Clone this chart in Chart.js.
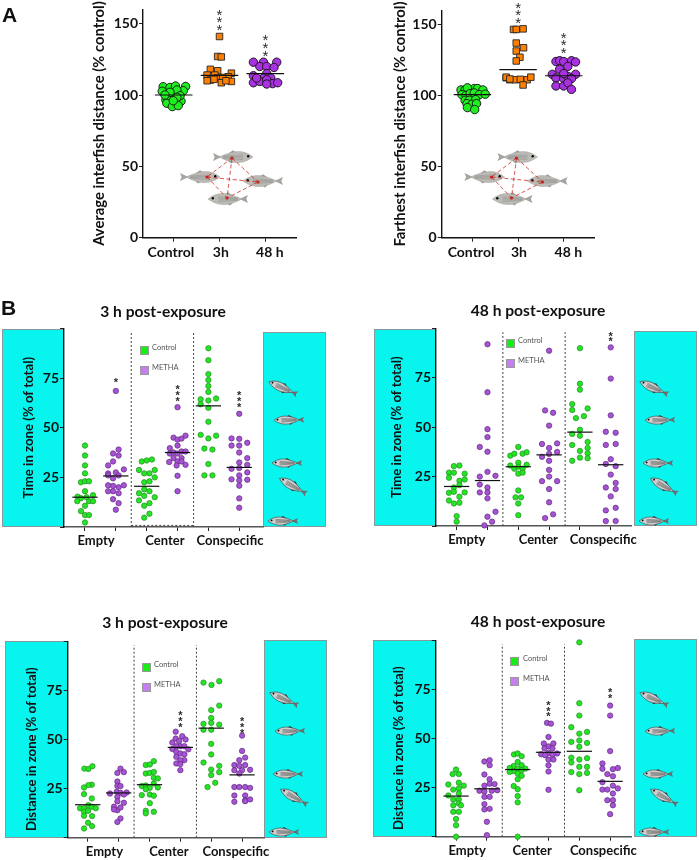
<!DOCTYPE html>
<html>
<head>
<meta charset="utf-8">
<title>Interfish distance and zone preference</title>
<script src="https://cdn.jsdelivr.net/npm/chart.js@4/dist/chart.umd.min.js"></script>
<style>
  html, body { margin: 0; background: #fff; }
  #page { position: relative; width: 699px; height: 860px; overflow: hidden; font-family: Lato, sans-serif; color: #111; }
  #page canvas { position: absolute; }
  .letter { position: absolute; font: 700 21px "Liberation Sans", sans-serif; line-height: 1; }
  .title { position: absolute; width: 200px; text-align: center; font-weight: 700; font-size: 15.6px; line-height: 1; }
  .sw { position: absolute; width: 9px; height: 9px; box-sizing: border-box; border: 1px solid #999; }
  .key { position: absolute; font-size: 7.5px; line-height: 1; color: #555; }
</style>
</head>
<body>
<div id="page">
  <canvas id="deco" width="699" height="860" style="left:0;top:0"></canvas>
</div>
<script>
// ---- Data: each point is [offset from category, value] ----
const aCategories = ['Control', '3h', '48 h'];
const bCategories = ['Empty', 'Center', 'Conspecific'];

// A, average interfish distance
const avgControl = [[-.23,105.8],[-.25,102.6],[-.08,105.3],[.04,106.3],[.26,106],[.21,103],[.07,103.5],[-.06,99.5],[-.17,96.5],[-.12,97],[.16,95.6],[-.15,94.2],[.03,93.3],[-.03,91.9],[.10,92.6],[-.08,101.9],[.14,99.5],[.07,98.4],[-.19,100],[-.01,96]];
const avg3h = [[0,141],[-.04,127],[.04,126.7],[-.2,118],[-.04,117],[-.27,114],[.26,115.3],[.19,112.8],[-.10,114],[-.2,110.5],[-.05,111.9],[.07,112.3],[-.27,110],[-.12,111],[.04,108.6],[.26,109.5],[.14,110]];
const avg48h = [[-.26,123],[-.04,123],[.25,123],[-.12,120],[.03,120],[.19,119.3],[.03,115],[-.26,113.5],[-.04,111.9],[.12,111.9],[-.26,108.6],[-.12,109.5],[.03,110.7],[.16,108],[.27,108.6],[.03,107.7],[-.19,111.9]];
const avgMedians = [100, 113.8, 115];
const avgStars = [[2, 158, 3], [3, 140, 3]];

// A, farthest interfish distance
const farControl = [[-.25,104],[-.16,104],[-.07,104],[.04,105],[.11,105],[.23,104],[-.11,105.5],[-.23,100.7],[-.14,100.2],[-.05,101.4],[.04,101.9],[.15,100.7],[.28,101],[-.16,96.7],[-.07,96.7],[.07,97.2],[-.12,94.4],[-.01,93.9],[.09,94.4],[-.11,91.6],[.05,90.2]];
const far3h = [[-.10,146.6],[-.04,146.6],[.11,147],[-.04,137],[.12,133.7],[-.04,131.4],[.04,127],[-.04,124.4],[-.26,112.6],[-.18,111.2],[-.06,111.2],[.05,111.5],[.2,111.2],[.28,113],[.11,107.5],[-.26,113],[-.18,111.7]];
const far48h = [[-.17,124],[-.09,124.6],[0,124],[.17,124.6],[.26,123.7],[.09,120.6],[-.09,118.5],[-.25,115],[.26,115],[-.17,112.4],[0,112],[.09,113.6],[.17,112],[-.17,106.8],[0,106.8],[.09,109],[.17,104.4],[0,115.5]];
const farMedians = [100.7, 118.3, 114];
const farStars = [[2, 163.7, 3], [3, 142.5, 3]];

// B, time in zone, 3 h
const time3Control = [
  [[0,41],[0,36],[0,31],[0,27],[-.13,22.5],[0,23],[.13,23],[0,18],[-.24,15.3],[-.13,14.5],[.26,16],[-.25,13],[.13,13],[.26,13],[0,10.7],[-.13,8],[0,6],[.13,6],[0,2.3],[.05,15]],
  [[-.16,33],[0,33.5],[.17,34],[-.25,28.7],[.26,28.7],[-.08,27],[.09,27],[.26,25],[-.08,22.5],[.09,23],[-.08,19],[-.25,17],[.09,18],[-.08,15.7],[.26,15],[-.25,13.4],[.09,12],[-.08,10.7],[.09,6.7],[-.08,4.7]],
  [[0,90],[0,84],[0,77],[0,74],[0,71],[0,68],[-.25,64.3],[0,63.7],[.25,64.7],[-.25,61.8],[0,60],[0,53],[-.25,46.4],[.25,46],[0,44.6],[-.13,39.5],[.13,39],[0,31.7],[-.13,26],[.13,26]]
];
const time3Metha = [
  [[0,68.5],[.09,39],[-.09,37],[.09,36],[-.09,33],[-.25,31],[.26,29],[-.25,27],[0,27.5],[.09,26],[-.25,26],[-.09,24.5],[-.25,21],[.26,21],[-.09,20.7],[.09,20],[-.25,18],[-.09,18],[.09,17],[-.09,14],[.09,12],[0,8.7]],
  [[0,60.3],[-.13,45],[0,44],[.13,44.5],[.26,46],[0,41],[-.25,39.7],[-.25,37],[-.13,37.5],[0,37],[.13,38],[.26,38],[-.13,34.7],[.13,34.7],[-.27,32.7],[0,33],[.13,33],[.26,31.3],[-.03,31],[0,25.8],[0,18]],
  [[0,57],[-.25,44.6],[0,44.4],[.26,42.4],[-.25,41],[0,41],[0,37.5],[.26,34.7],[0,32.5],[.26,31.3],[-.25,29.3],[0,29.7],[.26,27.5],[0,26],[-.25,24],[0,23.5],[.26,23.8],[0,20.8],[0,14.4],[0,9.7]]
];
const time3Medians = [15, 25.7, 20.5, 37.5, 61, 30];
const time3Stars = [[2, 73.7, 1], [4, 70, 3], [6, 67, 3]];

// B, time in zone, 48 h
const time48Control = [
  [[-.09,30.3],[.09,30.6],[-.25,27],[-.09,27],[.26,26.5],[-.25,24.4],[.09,22.9],[.26,23.5],[.09,20.7],[-.09,19.5],[-.25,16.8],[-.09,17.3],[.26,17],[.09,14.8],[-.25,12.9],[-.09,11.4],[.09,11.8],[0,5],[0,2.2]],
  [[0,40],[-.26,35.6],[-.13,36.6],[.14,36.6],[.27,37.3],[0,32],[-.26,30.6],[.27,31],[-.13,29],[0,30],[.14,29],[0,26.5],[.14,27],[0,18],[-.09,14.5],[.09,14.5],[0,11.4],[0,5.5]],
  [[0,90],[0,72],[0,69],[-.25,61.7],[.25,59.5],[-.25,58.7],[.13,55.6],[-.13,54.6],[0,48.7],[-.25,46.6],[0,45.7],[.25,42.5],[-.25,41],[.25,39.5],[0,38],[.25,36.8],[0,34.6],[.25,34.3],[-.25,33]]
];
const time48Metha = [
  [[0,92],[0,67.7],[0,49],[0,45],[-.25,40],[0,37.6],[0,27.4],[-.25,25],[.26,25.4],[-.25,21],[0,19.5],[-.25,17],[0,17],[0,14],[.26,7.2],[0,4.7],[.15,2.2],[-.1,.3]],
  [[0,88.7],[-.13,58.5],[.13,57.3],[0,50.8],[-.23,41.5],[.26,41.8],[0,39.5],[0,36.5],[-.23,35],[.26,37.5],[0,33],[0,28.4],[0,25],[-.23,22.7],[.26,22.7],[0,18.7],[0,12],[.13,5.9],[-.13,4]],
  [[0,90.4],[0,74.6],[0,56],[-.16,47.7],[.16,47.2],[-.16,41],[.16,41.5],[0,33.8],[-.16,31.4],[.16,30.3],[0,26],[.16,21.8],[-.16,19.5],[.16,18.7],[0,15],[.16,9.2],[-.16,7.9],[-.16,2.5],[.16,2.5]]
];
const time48Medians = [20, 23, 30, 36, 47.5, 31];
const time48Stars = [[6, 97, 2]];

// B, distance in zone, 3 h
const dist3Control = [
  [[-.11,35.2],[.02,35],[.15,36.4],[.13,27],[.02,26.8],[-.12,25.6],[-.12,22.2],[.13,20],[-.25,15],[-.12,15],[.02,16.6],[.13,15.8],[.26,15],[-.12,13.2],[.01,13.7],[-.12,11.2],[.14,11],[.01,7.6],[.14,5.9],[-.12,4.7]],
  [[.14,39],[-.12,37],[.01,37.3],[-.12,32.7],[.01,33],[.14,33.5],[.14,30.5],[.27,30.2],[-.25,26.3],[-.12,26.6],[.01,25.4],[.14,27.6],[.27,25.6],[-.12,24.7],[-.25,21.7],[.01,22],[.14,21.4],[.01,17.6],[-.12,13.7],[.14,13.2],[-.12,12.4]],
  [[-.25,79],[.01,77.8],[.26,79.7],[.26,67.3],[0,65],[0,61],[-.25,58],[0,58.5],[.26,57.6],[-.25,55],[0,55],[0,47.8],[0,42.4],[-.25,38.3],[.26,36.6],[0,34.7],[.26,33.4],[0,31.9],[.13,28],[-.12,25.8]]
];
const dist3Metha = [
  [[.06,35.2],[-.04,33],[.17,33.4],[-.04,28.6],[-.04,26.4],[.06,26.3],[-.28,22.5],[-.06,23.4],[.06,22.9],[.26,23],[-.04,20.8],[.17,22],[-.04,18.5],[.17,17.8],[-.15,15.8],[-.04,14],[.06,15.4],[-.15,14.4],[.06,9.8],[-.04,8]],
  [[-.15,54],[.06,51.7],[-.15,50.5],[.17,50],[-.04,49.3],[-.26,48.5],[0,46.6],[.13,46.6],[-.13,46.6],[.26,45],[-.26,45.2],[-.13,43.7],[0,42.9],[.13,42.5],[-.13,41.2],[.13,39.5],[0,39.5],[-.13,37.8],[0,37.5],[0,34.4]],
  [[0,52],[0,44.2],[.1,40.8],[-.09,39.5],[-.25,37],[.1,37],[-.09,36.6],[-.25,34.4],[0,34.4],[.26,34.6],[-.09,32.7],[-.25,25.8],[-.09,25.8],[.1,25.8],[.26,25.4],[-.25,21.5],[.1,21.5],[.1,19],[-.25,18.3],[.26,19.5],[.1,18.6]]
];
const dist3Medians = [16.8, 22.8, 27, 46, 55.8, 32];
const dist3Stars = [[4, 63, 3], [6, 60, 3]];

// B, distance in zone, 48 h
const dist48Control = [
  [[0,34.2],[-.11,31.9],[.09,31.9],[-.25,26.6],[.09,27.5],[.25,26],[-.09,24],[.09,24.6],[.09,22],[-.25,21],[-.09,19],[.09,19],[-.09,16],[.09,17],[.16,16],[-.09,12.7],[.09,12.7],[0,9],[0,5.8],[0,0]],
  [[-.12,41.9],[0,42.4],[.13,41],[0,38.1],[-.13,36],[.13,36.4],[-.26,35],[0,34.7],[.25,34.7],[-.13,33.4],[.13,33.9],[-.26,33],[0,32.2],[.13,31],[0,29.3],[-.13,25.8],[0,24.2],[0,20.7],[0,17.5],[0,0]],
  [[0,99],[0,68],[0,61.7],[-.26,55.8],[.25,53.4],[0,52.5],[-.26,48.3],[0,49],[.25,47.8],[0,45.8],[-.26,40.3],[.25,40],[0,39.3],[-.26,37.8],[0,35.6],[.25,35.6],[-.26,32.9],[.25,32.5],[0,31.9],[0,23.7]]
];
const dist48Metha = [
  [[-.08,38.3],[.09,39],[.09,36.4],[-.08,31.7],[.09,29.3],[-.08,26],[.09,27],[.25,26.8],[-.24,23.4],[-.08,23],[.16,23.4],[.34,23.7],[-.08,20.3],[.09,20.3],[-.08,16.6],[-.08,13.9],[.09,14.2],[0,7.6],[0,.8]],
  [[-.05,58],[.08,57.6],[0,50.8],[-.15,47.5],[.16,47.5],[0,46],[-.13,45],[.13,45],[-.24,42],[0,42.7],[.28,42.4],[-.11,41.5],[.13,41.8],[0,39.3],[.16,39.3],[0,36.4],[0,33.2],[0,23.9]],
  [[0,66.8],[0,61.7],[0,43.6],[-.25,37.3],[-.25,34.6],[.09,34.4],[.25,35],[-.09,31.9],[.09,30.8],[-.25,27.8],[.09,26],[-.25,24],[-.09,24],[.25,24.6],[.09,22],[-.09,18.6],[.09,18.6],[.09,16],[0,11.5]]
];
const dist48Medians = [20.7, 24.4, 34.2, 43, 43.5, 28.2];
const dist48Stars = [[4, 67.8, 3], [6, 74.2, 2]];

const aTicks = [1, 2, 3];
const bTicks = [1, 2, 3, 4, 5, 6];
const aYTicks = [0, 50, 100, 150];
const bYTicks = [0, 25, 50, 75, 100];
const zoneDividers = [2.5, 4.52];

// ---- Colors ----
const colors = {
  green:  { fill: '#1fee1f', line: '#111' },
  orange: { fill: '#ff8000', line: '#222' },
  purple: { fill: '#a832e0', line: '#111' },
  bGreen: { fill: '#22e622', line: '#2a8a2a' },
  bPurple:{ fill: '#a852d4', line: '#5b2c80' },
  cyan: '#07f5ee',
  axis: '#222'
};

const page = document.getElementById('page');
const font = 'Lato, sans-serif';

// ---- Background art: cyan tanks and fish ----
const deco = document.getElementById('deco').getContext('2d');

function drawFish(cx, cy, len, angle, headLeft, dark) {
  const c = deco;
  c.save();
  c.translate(cx, cy);
  c.rotate(angle);
  if (!headLeft) c.scale(-1, 1);
  const L = len / 2;
  // tail
  c.fillStyle = dark ? '#6d6d6d' : '#a5a4a0';
  c.beginPath();
  c.moveTo(L * 0.58, 0);
  c.lineTo(L, -L * 0.2);
  c.lineTo(L * 0.92, 0);
  c.lineTo(L, L * 0.2);
  c.closePath();
  c.fill();
  // fins
  c.fillStyle = dark ? '#333' : '#9c9b97';
  c.beginPath();
  c.moveTo(-L * 0.2, -L * 0.2);
  c.lineTo(0, -L * 0.34);
  c.lineTo(L * 0.25, -L * 0.16);
  c.closePath();
  c.fill();
  c.beginPath();
  c.moveTo(-L * 0.1, L * 0.2);
  c.lineTo(L * 0.1, L * 0.32);
  c.lineTo(L * 0.3, L * 0.14);
  c.closePath();
  c.fill();
  // body
  c.fillStyle = dark ? '#cfcfcf' : '#bdbbb6';
  c.strokeStyle = dark ? '#444' : '#a8a6a2';
  c.lineWidth = 0.6;
  c.beginPath();
  c.moveTo(-L, 0);
  c.quadraticCurveTo(-L * 0.55, -L * 0.36, 0, -L * 0.24);
  c.quadraticCurveTo(L * 0.4, -L * 0.15, L * 0.7, 0);
  c.quadraticCurveTo(L * 0.4, L * 0.17, 0, L * 0.26);
  c.quadraticCurveTo(-L * 0.55, L * 0.34, -L, 0);
  c.closePath();
  c.fill();
  c.stroke();
  // stripes
  c.strokeStyle = dark ? '#555' : '#8d8d8b';
  c.lineWidth = 0.5;
  [-0.11, -0.03, 0.05, 0.13].forEach(k => {
    c.beginPath();
    c.moveTo(-L * 0.5, L * k);
    c.lineTo(L * 0.5, L * k * 0.5);
    c.stroke();
  });
  // eye
  c.fillStyle = '#000';
  c.beginPath();
  c.arc(-L * 0.76, -L * 0.04, Math.max(0.9, L * 0.06), 0, Math.PI * 2);
  c.fill();
  c.restore();
}

function drawTank(x, y, w, h) {
  deco.fillStyle = colors.cyan;
  deco.fillRect(x, y, w, h);
  deco.strokeStyle = '#8a9a9a';
  deco.lineWidth = 1;
  deco.strokeRect(x + .5, y + .5, w - 1, h - 1);
}

function drawRightTankFish(left, bottom) {
  drawFish(left + 20, bottom - 139, 31, 0.42, true, true);
  drawFish(left + 26, bottom - 107, 30, -0.02, true, true);
  drawFish(left + 24, bottom - 64, 30, 0, true, true);
  drawFish(left + 30, bottom - 41, 31, 0.52, true, true);
  drawFish(left + 20, bottom - 6, 30, 0, true, true);
}

function drawShoal(dx) {
  const nodes = [[232 + dx, 158], [207 + dx, 177], [258 + dx, 182], [227 + dx, 198]];
  drawFish(233 + dx, 157, 40, 0, false, false);
  drawFish(200 + dx, 177, 40, 0, false, false);
  drawFish(263 + dx, 181, 40, 0, true, false);
  drawFish(228 + dx, 199, 40, 0, true, false);
  deco.strokeStyle = '#cc2a22';
  deco.lineWidth = 0.8;
  deco.setLineDash([4, 2.5]);
  for (let i = 0; i < nodes.length; i++) {
    for (let j = i + 1; j < nodes.length; j++) {
      deco.beginPath();
      deco.moveTo(nodes[i][0], nodes[i][1]);
      deco.lineTo(nodes[j][0], nodes[j][1]);
      deco.stroke();
    }
  }
  deco.setLineDash([]);
  deco.fillStyle = '#c8201a';
  nodes.forEach(n => {
    deco.beginPath();
    deco.arc(n[0], n[1], 1.6, 0, Math.PI * 2);
    deco.fill();
  });
}

drawShoal(0);
drawShoal(284.5);

drawTank(2, 329, 62, 198);
drawTank(263, 332, 63, 195);
drawRightTankFish(263, 527);
drawTank(374, 329, 62, 197);
drawTank(634, 331, 63, 195);
drawRightTankFish(634, 527);
drawTank(5, 641, 63, 197);
drawTank(264, 640, 63, 198);
drawRightTankFish(264, 838);
drawTank(373, 640, 63, 197);
drawTank(634, 639, 63, 198);
drawRightTankFish(634, 838);

// ---- Chart helpers ----
function pointSet(points, center, fill, line, style, radius, borderWidth) {
  return {
    data: points.map(p => ({ x: center + p[0], y: p[1] })),
    showLine: false,
    pointStyle: style,
    pointRadius: radius,
    pointHoverRadius: radius,
    pointBackgroundColor: fill,
    pointBorderColor: line,
    pointBorderWidth: borderWidth,
    clip: false
  };
}

function medianSet(value, center, halfWidth, color) {
  return {
    data: [{ x: center - halfWidth, y: value }, { x: center + halfWidth, y: value }],
    showLine: true,
    borderColor: color,
    borderWidth: 1.2,
    pointRadius: 0,
    clip: false
  };
}

function dashSet(points) {
  return {
    data: points,
    showLine: true,
    borderColor: '#444',
    borderWidth: 1,
    borderDash: [2, 2],
    pointRadius: 0,
    clip: false
  };
}

// Significance asterisks stacked above a point, as text
function starsPlugin(stars, fontSpec, size, gap) {
  return {
    id: 'stars',
    afterDatasetsDraw(chart) {
      const c = chart.ctx;
      c.save();
      c.font = fontSpec;
      c.fillStyle = '#2a2a2a';
      c.textAlign = 'center';
      c.textBaseline = 'middle';
      stars.forEach(s => {
        const x = chart.scales.x.getPixelForValue(s[0]);
        const y = chart.scales.y.getPixelForValue(s[1]);
        for (let i = 0; i < s[2]; i++) {
          c.fillText('*', x, y + i * gap + size * 0.22);
        }
      });
      c.restore();
    }
  };
}

function makeChart(cfg) {
  const left = Math.round(cfg.titleX - 8.4);
  const top = Math.round(cfg.plot.top) - 9;
  const canvasTop = Math.max(top, 0);
  const height = Math.min(860, Math.round(cfg.plot.bottom) + 23) - canvasTop;
  const width = Math.round(cfg.plot.right) + 10 - left;

  const canvas = document.createElement('canvas');
  canvas.width = width;
  canvas.height = height;
  canvas.style.left = left + 'px';
  canvas.style.top = canvasTop + 'px';
  canvas.style.width = width + 'px';
  canvas.style.height = height + 'px';
  page.appendChild(canvas);

  const labelAt = new Map(cfg.labelTicks.map((v, i) => [v, cfg.categories[i]]));

  new Chart(canvas, {
    type: 'scatter',
    data: { datasets: cfg.datasets },
    options: {
      responsive: false,
      animation: false,
      events: [],
      layout: { padding: { top: cfg.plot.top - canvasTop, right: width - (cfg.plot.right - left), left: 0, bottom: 0 } },
      plugins: { legend: { display: false }, tooltip: { enabled: false } },
      scales: {
        x: {
          type: 'linear',
          min: cfg.xMin,
          max: cfg.xMax,
          afterBuildTicks: s => { s.ticks = cfg.xTicks.concat(cfg.labelTicks).map(v => ({ value: v })); },
          afterFit: s => { s.height = canvasTop + height - cfg.plot.bottom; },
          border: { color: cfg.xAxisColor, width: 1.4 },
          grid: {
            drawOnChartArea: false,
            tickLength: 4,
            tickWidth: 1,
            tickColor: ctx => (ctx.tick && labelAt.has(ctx.tick.value) ? 'rgba(0,0,0,0)' : colors.axis)
          },
          ticks: {
            autoSkip: false,
            maxRotation: 0,
            padding: 2,
            color: '#111',
            font: { family: font, size: cfg.xFont, weight: 700 },
            callback: v => labelAt.get(v) || ''
          }
        },
        y: {
          min: 0,
          max: cfg.yMax,
          afterBuildTicks: s => { s.ticks = cfg.yTicks.map(v => ({ value: v })); },
          afterFit: s => { s.width = cfg.plot.left - left; },
          border: { color: '#111', width: 1.4 },
          grid: { drawOnChartArea: false, tickLength: 4, tickWidth: 1, tickColor: colors.axis },
          ticks: {
            autoSkip: false,
            padding: 1,
            color: '#111',
            font: { family: font, size: 14, weight: 700 },
            callback: v => (cfg.yLabeled.includes(v) ? String(v) : '')
          },
          title: {
            display: true,
            text: cfg.yTitle,
            color: '#111',
            padding: 0,
            font: { family: font, size: cfg.titleFont, weight: 700, lineHeight: 1.2 }
          }
        }
      }
    },
    plugins: [starsPlugin(cfg.stars, cfg.starFont, cfg.starSize, cfg.starGap)]
  });
}

function panelA(cfg, control, three, fortyEight, medians, stars) {
  const sets = medians.map((m, i) => medianSet(m, i + 1, 0.41, '#111'));
  sets.push(pointSet(fortyEight, 3, colors.purple.fill, colors.purple.line, 'circle', 4.2, 0.9));
  sets.push(pointSet(three, 2, colors.orange.fill, colors.orange.line, 'rect', 4.6, 0.9));
  sets.push(pointSet(control, 1, colors.green.fill, colors.green.line, 'circle', 4.2, 0.9));
  makeChart(Object.assign({
    categories: aCategories, xTicks: aTicks, yTicks: aYTicks, yLabeled: [0, 50, 100, 150],
    yMax: 160, datasets: sets, stars: stars,
    starFont: '400 15px "Liberation Sans", sans-serif', starSize: 15, starGap: 7.7,
    xFont: 14, titleFont: 14.8, xAxisColor: '#111'
  }, cfg));
}

function panelB(cfg, control, metha, medians, stars, extraSets) {
  const sets = medians.map((m, i) => medianSet(m, i + 1, 0.41, '#111'));
  zoneDividers.forEach(x => sets.push(dashSet([{ x: x, y: 0 }, { x: x, y: 98 }])));
  (extraSets || []).forEach(s => sets.push(s));
  control.forEach((pts, i) => sets.push(pointSet(pts, i * 2 + 1, colors.bGreen.fill, colors.bGreen.line, 'circle', 2.7, 0.7)));
  metha.forEach((pts, i) => sets.push(pointSet(pts, i * 2 + 2, colors.bPurple.fill, colors.bPurple.line, 'circle', 2.7, 0.7)));
  makeChart(Object.assign({
    categories: bCategories, xTicks: bTicks, yTicks: bYTicks, yLabeled: [25, 50, 75],
    yMax: 100, datasets: sets, stars: stars,
    starFont: '700 11px "Liberation Sans", sans-serif', starSize: 11, starGap: 5.6,
    xFont: 13, titleFont: 13.2, xAxisColor: '#555'
  }, cfg));
}

function addText(cls, text, x, y) {
  const el = document.createElement('div');
  el.className = cls;
  el.textContent = text;
  el.style.left = x + 'px';
  el.style.top = y + 'px';
  page.appendChild(el);
}

function addKey(x, y, yText, textX) {
  [['Control', '#16ee16', 0], ['METHA', '#c77ef0', 20.3]].forEach(k => {
    const sw = document.createElement('div');
    sw.className = 'sw';
    sw.style.left = x + 'px';
    sw.style.top = (y + k[2]) + 'px';
    sw.style.background = k[1];
    page.appendChild(sw);
    addText('key', k[0], textX, yText + k[2]);
  });
}

// ---- Panels ----
panelA({
  plot: { left: 143, top: 9, right: 296, bottom: 237.7 }, titleX: 98,
  xMin: 0.33, xMax: 3.67, labelTicks: [0.94, 2.03, 3.1],
  yTitle: 'Average interfish distance (% control)'
}, avgControl, avg3h, avg48h, avgMedians, avgStars);

panelA({
  plot: { left: 441.7, top: 10, right: 594.3, bottom: 237.7 }, titleX: 399,
  xMin: 0.327, xMax: 3.67, labelTicks: [0.97, 2.02, 3.1],
  yTitle: 'Farthest interfish distance (% control)'
}, farControl, far3h, far48h, farMedians, farStars);

panelB({
  plot: { left: 64, top: 328, right: 263, bottom: 527 }, titleX: 29,
  xMin: 0.32, xMax: 6.77, labelTicks: [1.36, 3.59, 5.7],
  yTitle: 'Time in zone (% of total)'
}, time3Control, time3Metha, time3Medians, time3Stars, [dashSet([{ x: 2.5, y: 0.8 }, { x: 4.5, y: 0.8 }])]);

panelB({
  plot: { left: 436, top: 328, right: 631.7, bottom: 526 }, titleX: 397.7,
  xMin: 0.33, xMax: 6.68, labelTicks: [1.33, 3.65, 5.76],
  yTitle: 'Time in zone (% of total)'
}, time48Control, time48Metha, time48Medians, time48Stars);

// trailing spaces nudge the centred axis title down, as in the reference
panelB({
  plot: { left: 67.7, top: 640.7, right: 264.3, bottom: 837.7 }, titleX: 32.3,
  xMin: 0.35, xMax: 6.72, labelTicks: [1.54, 3.63, 5.8],
  yTitle: 'Distance in zone (% of total)      '
}, dist3Control, dist3Metha, dist3Medians, dist3Stars);

panelB({
  plot: { left: 435.7, top: 640, right: 631.7, bottom: 836.7 }, titleX: 399,
  xMin: 0.34, xMax: 6.7, labelTicks: [1.36, 3.47, 5.78],
  yTitle: 'Distance in zone (% of total)      '
}, dist48Control, dist48Metha, dist48Medians, dist48Stars);

// ---- Text outside the charts ----
addText('letter', 'A', 2, 4);
addText('letter', 'B', 1, 297);
addText('title', '3 h post-exposure', 63, 304);
addText('title', '48 h post-exposure', 438, 303);
addText('title', '3 h post-exposure', 65, 615);
addText('title', '48 h post-exposure', 438, 614);

addKey(139.5, 345.5, 343.5, 152);
addKey(505.7, 338.5, 336.5, 518);
addKey(141.5, 663, 661, 154);
addKey(510, 657, 654.5, 523);
</script>
</body>
</html>
